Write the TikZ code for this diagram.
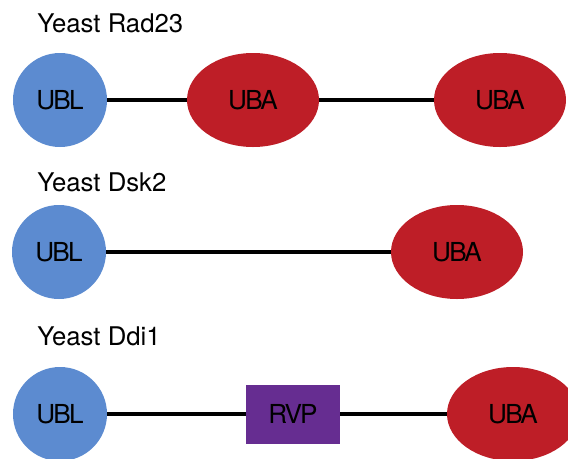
\documentclass[tikz,border=0pt]{standalone}
\usepackage{fontspec}
\setmainfont{TeX Gyre Heros}
\usepackage{tikz}
\usetikzlibrary{shapes.geometric}
\definecolor{ublblue}{RGB}{92,139,208}
\definecolor{ubared}{RGB}{190,30,39}
\definecolor{rvppurple}{RGB}{102,45,145}

\begin{document}
\begin{tikzpicture}[
  title/.style={anchor=base west,inner sep=0pt,font=\fontsize{18.3}{20}\selectfont},
  dombox/.style={inner sep=0pt,text=black,
    font=\fontsize{18.6}{20}\selectfont\addfontfeature{LetterSpace=-7}},
  ubl/.style={dombox,circle,fill=ublblue,minimum size=2.35cm},
  uba/.style={dombox,ellipse,fill=ubared,minimum width=3.3cm,minimum height=2.35cm},
  rvp/.style={dombox,rectangle,fill=rvppurple,minimum width=2.35cm,minimum height=1.475cm},
  link/.style={line width=2.2pt,color=black},
]
  \useasboundingbox (0,0) rectangle (14.2,-11.45);
  % Rad23
  \node[title] (radname) at (0.925,-0.8) {Yeast Rad23};
  \node[ubl] (radubl)  at (1.5,-2.5)    {UBL};
  \node[uba] (raduba)  at (6.325,-2.5)  {UBA};
  \node[uba] (radubb)  at (12.5,-2.5)   {UBA};
  \draw[link] (radubl) -- (raduba);
  \draw[link] (raduba) -- (radubb);
  % Dsk2
  \node[title] (dskname) at (0.925,-4.79) {Yeast Dsk2};
  \node[ubl] (dskubl)  at (1.475,-6.3)  {UBL};
  \node[uba] (dskuba)  at (11.425,-6.3) {UBA};
  \draw[link] (dskubl) -- (dskuba);
  % Ddi1
  \node[title] (ddiname) at (0.925,-8.625) {Yeast Ddi1};
  \node[ubl] (ddiubl)  at (1.5,-10.35)    {UBL};
  \node[rvp] (ddirvp)  at (7.325,-10.35)  {RVP};
  \node[uba] (ddiuba)  at (12.825,-10.35) {UBA};
  \draw[link] (ddiubl) -- (ddirvp);
  \draw[link] (ddirvp) -- (ddiuba);
\end{tikzpicture}
\end{document}
